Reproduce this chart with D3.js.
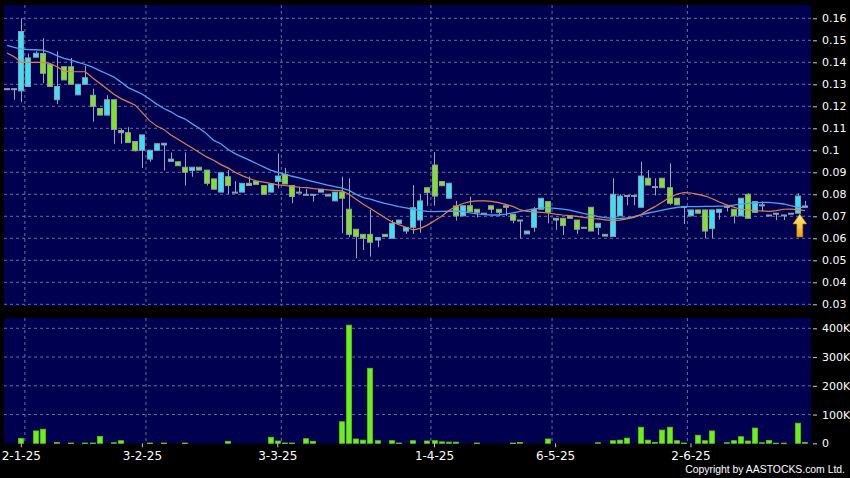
<!DOCTYPE html>
<html><head><meta charset="utf-8">
<script src="https://cdn.jsdelivr.net/npm/d3@7"></script>
<style>
html,body{margin:0;padding:0;background:#000;}
svg{display:block;}
text{font-family:"DejaVu Sans",sans-serif;fill:#fff;}
</style></head>
<body>
<svg id="chart" width="850" height="478"></svg>
<script>
// ---------- DATA ----------
const openP  = [.128,.128,.127,.129,.1423,.144,.139,.123,.138,.138,.1252,.130,.125,.119,.116,.123,.109,.108,.104,.100,.096,.100,.1024,.095,.0948,.0923,.0908,.0923,.091,.087,.081,.088,.081,.081,.085,.086,.084,.081,.0858,.089,.084,.081,.080,.080,.081,.080,.077,.081,.0732,.0641,.0618,.0618,.0592,.0618,.060,.0668,.0633,.065,.0683,.083,.0933,.0858,.0782,.0747,.0702,.0748,.0732,.0714,.0748,.0732,.0748,.0709,.0683,.062,.065,.0732,.0767,.0683,.0691,.0702,.0683,.065,.0741,.065,.0618,.0608,.0702,.0795,.0795,.0741,.0873,.0835,.0873,.083,.0782,.0745,.0702,.0729,.0729,.0644,.0718,.0745,.0732,.0702,.080,.0718,.0752,.0706,.0714,.0706,.0714,.0714,.0741];
const highP  = [.128,.128,.160,.144,.145,.151,.139,.145,.138,.142,.130,.1385,.128,.119,.125,.123,.110,.1105,.104,.107,.100,.103,.1032,.099,.0948,.099,.0923,.0923,.091,.087,.090,.091,.086,.085,.088,.086,.084,.0847,.0986,.092,.084,.0835,.0824,.080,.0823,.080,.081,.088,.0873,.0641,.0618,.0729,.0603,.0618,.0683,.0683,.065,.0842,.080,.083,.0991,.0858,.0853,.077,.0748,.0789,.0732,.0714,.0748,.0732,.0748,.0709,.0683,.0633,.0742,.0782,.0767,.0691,.0691,.0702,.0683,.065,.0741,.0668,.0618,.0873,.080,.0795,.0795,.0948,.091,.0873,.0873,.0941,.0782,.0745,.0729,.0729,.0729,.0729,.0732,.0752,.0732,.0782,.0805,.0767,.0767,.0706,.0714,.0706,.0714,.0805,.077];
const lowP   = [.128,.123,.122,.129,.1423,.1305,.129,.121,.132,.130,.1252,.130,.113,.116,.116,.103,.103,.1035,.0995,.092,.0948,.100,.0908,.095,.093,.084,.088,.091,.084,.0823,.081,.080,.081,.081,.084,.0845,.080,.081,.0827,.0847,.076,.081,.080,.0767,.081,.0792,.077,.0623,.0605,.051,.0547,.0517,.0559,.0608,.060,.0668,.062,.062,.0625,.0748,.0748,.0839,.0782,.068,.0702,.0721,.0695,.0714,.0714,.070,.0702,.0668,.060,.062,.063,.0732,.0668,.0638,.0615,.0691,.062,.065,.0633,.0615,.061,.0608,.0702,.075,.075,.0741,.0842,.0795,.083,.0752,.0752,.0665,.0702,.0714,.060,.060,.0685,.0722,.0668,.0702,.0691,.0718,.0722,.0702,.0683,.0683,.0714,.0714,.0741];
const closeP = [.128,.128,.154,.142,.1441,.135,.129,.129,.132,.130,.130,.133,.120,.116,.123,.1095,.108,.1035,.0998,.107,.100,.103,.1032,.096,.093,.090,.0923,.091,.085,.0823,.0898,.084,.081,.085,.084,.0845,.080,.0847,.0883,.0847,.079,.081,.080,.080,.0823,.0792,.081,.0782,.0618,.0608,.060,.0582,.0603,.0608,.0668,.0683,.065,.0739,.077,.0808,.0792,.0839,.085,.0702,.0748,.0721,.0718,.0714,.0732,.0718,.0741,.0682,.0683,.0633,.0732,.0782,.0718,.0691,.0658,.0691,.0641,.065,.0633,.0668,.061,.080,.0792,.0795,.0795,.0883,.0842,.0835,.083,.0759,.0752,.0745,.0729,.0714,.0633,.0729,.0732,.0745,.0702,.0782,.0691,.0767,.0752,.0702,.0714,.0702,.0714,.0792,.0747];
// volume in thousands of shares
const volumeK = [0,0,17,0,43,49,0,3,0,1,0,1,1,24,0,2,9,0,0,0,1,0,1,0,0,1,0,0,0,0,0,7,0,0,0,0,0,21,8,1,1,0,16,7,0,0,0,75,411,15,11,261,9,0,9,1,0,9,0,8,9,5,4,4,0,0,1,0,0,0,0,1,3,0,0,0,15,0,0,0,0,0,0,2,0,9,11,18,0,56,11,3,46,56,9,1,0,28,9,43,0,2,9,23,8,53,2,10,0.5,0.5,0,70,3];
// moving averages (orange = short, blue = long)
const maShort = [.1442,.1425,.140,.140,.140,.140,.1395,.138,.136,.1357,.1357,.1357,.133,.1305,.128,.1255,.1235,.122,.1205,.117,.1135,.111,.1095,.107,.105,.103,.101,.099,.097,.0955,.0935,.092,.090,.0885,.0872,.086,.0855,.085,.0843,.084,.0836,.0832,.083,.0826,.0823,.082,.0818,.0816,.080,.0778,.0755,.0735,.0715,.0695,.0675,.0662,.065,.0638,.0645,.066,.068,.070,.0725,.0745,.0758,.0767,.077,.077,.0768,.0762,.0754,.0745,.073,.0722,.072,.0718,.0715,.071,.0706,.0703,.070,.0695,.069,.0688,.0684,.068,.0683,.0688,.0695,.0708,.0728,.0745,.0765,.0785,.080,.0808,.0806,.080,.0792,.078,.0765,.0752,.0742,.0732,.0728,.0726,.0725,.0722,.0726,.0732,.0733,.073,.0726];
const maLong = [.1477,.1468,.146,.1458,.1457,.1455,.1445,.143,.1418,.141,.140,.139,.1378,.1362,.1348,.1333,.131,.1285,.127,.1255,.1233,.121,.119,.1175,.1155,.1142,.112,.110,.1075,.1045,.103,.1005,.0985,.097,.0955,.094,.0925,.091,.090,.0892,.0882,.0875,.0866,.0858,.085,.0842,.0835,.0828,.0818,.080,.0785,.0778,.0768,.0759,.0752,.0744,.0738,.0732,.0726,.0722,.0721,.0722,.0723,.0724,.0722,.0716,.0711,.0708,.0706,.0706,.071,.0716,.0722,.0728,.0734,.0738,.0738,.0736,.0733,.0728,.072,.0712,.0706,.0699,.0694,.0691,.069,.0693,.0698,.0706,.0715,.0721,.0728,.0735,.074,.0744,.0744,.0744,.0745,.0745,.0746,.0747,.0751,.0755,.0759,.0761,.0763,.0763,.076,.0756,.0748,.0741,.0741];
// axes
const priceTicks = [0.16,0.15,0.14,0.13,0.12,0.11,0.10,0.09,0.08,0.07,0.06,0.05,0.04,0.03];
const volTicks = [0,100,200,300,400];
const dateLabels = ["2-1-25","3-2-25","3-3-25","1-4-25","6-5-25","2-6-25"];
const dateIdx = [2,19,38,60,77,96];
const gridIdx = [2,19,38,59,76,95];
const arrowIdx = 111;

// ---------- LAYOUT ----------
const P = {left:4, right:811, top:5, bottom:306};
const V = {top:318, bottom:443.3};
const svg = d3.select("#chart");
const idx = d3.range(openP.length);

const x = d3.scaleBand().domain(idx).range([3.5, 808.5]).paddingInner(0.16).paddingOuter(0.08);
const cx = i => x(i) + x.bandwidth()/2;
const y = d3.scaleLinear().domain([0.03,0.16]).range([304.3,18.3]);
const yv = d3.scaleLinear().domain([0,400]).range([V.bottom,328.3]);

svg.append("rect").attr("width",850).attr("height",478).attr("fill","#000");
svg.append("rect").attr("x",P.left).attr("y",P.top).attr("width",P.right-P.left).attr("height",P.bottom-P.top).attr("fill","#000050");
svg.append("rect").attr("x",P.left).attr("y",V.top).attr("width",P.right-P.left).attr("height",V.bottom-V.top).attr("fill","#000050");

const gridCol = "#6c6c9c";
// horizontal grids
svg.append("g").selectAll("line").data(priceTicks).join("line")
  .attr("x1",P.left).attr("x2",P.right).attr("y1",d=>y(d)).attr("y2",d=>y(d))
  .attr("stroke",gridCol).attr("stroke-dasharray","3,3").attr("stroke-width",1);
svg.append("g").selectAll("line").data(volTicks.slice(1)).join("line")
  .attr("x1",P.left).attr("x2",P.right).attr("y1",d=>yv(d)).attr("y2",d=>yv(d))
  .attr("stroke",gridCol).attr("stroke-dasharray","3,3");
// vertical grids
const gx = i => x(i) + x.step() - (x.step()-x.bandwidth())/2;
svg.append("g").selectAll("line").data(gridIdx).join("line")
  .attr("x1",d=>gx(d)).attr("x2",d=>gx(d)).attr("y1",P.top).attr("y2",P.bottom)
  .attr("stroke",gridCol).attr("stroke-dasharray","3,3");
svg.append("g").selectAll("line").data(gridIdx).join("line")
  .attr("x1",d=>gx(d)).attr("x2",d=>gx(d)).attr("y1",V.top).attr("y2",V.bottom)
  .attr("stroke",gridCol).attr("stroke-dasharray","3,3");

// clip for price panel
svg.append("clipPath").attr("id","pclip").append("rect")
  .attr("x",P.left).attr("y",P.top).attr("width",P.right-P.left).attr("height",P.bottom-P.top);
const pg = svg.append("g").attr("clip-path","url(#pclip)");

// candles
const cyan = "#33e4f4", green = "#7ee41c";
const cg = pg.append("g");
cg.selectAll("line").data(idx).join("line")
  .attr("x1",i=>Math.round(cx(i))+0.5).attr("x2",i=>Math.round(cx(i))+0.5)
  .attr("y1",i=>y(highP[i])).attr("y2",i=>y(lowP[i]))
  .attr("stroke","#9aa6b4").attr("stroke-width",1);
cg.selectAll("rect").data(idx).join("rect")
  .attr("x",i=>Math.round(x(i))+0.5).attr("width",Math.round(x.bandwidth())-1)
  .attr("y",i=>y(Math.max(openP[i],closeP[i])))
  .attr("height",i=>Math.max(1,Math.abs(y(openP[i])-y(closeP[i]))))
  .attr("fill",i=>closeP[i]>openP[i]?cyan:(closeP[i]<openP[i]?green:"#6fa8c8"))
  .attr("stroke","#8d9cb0").attr("stroke-width",1);

// moving averages
const line = arr => d3.line().x((d,i)=>cx(i)).y(d=>y(d))(arr);
pg.append("path").attr("d",line(maLong)).attr("fill","none").attr("stroke","#49a6f2").attr("stroke-width",1.3);
pg.append("path").attr("d",line(maShort)).attr("fill","none").attr("stroke","#e0804a").attr("stroke-width",1.2);

// arrow marker
const defs = svg.append("defs");
const grad = defs.append("linearGradient").attr("id","ag").attr("x1",0).attr("x2",0).attr("y1",0).attr("y2",1);
grad.append("stop").attr("offset","0%").attr("stop-color","#fff27a");
grad.append("stop").attr("offset","100%").attr("stop-color","#f0a010");
const ax = cx(arrowIdx)+2, at = 214, ab = 237;
svg.append("path")
  .attr("d",`M${ax},${at} L${ax+7},${at+10} L${ax+3},${at+10} L${ax+3},${ab} L${ax-3},${ab} L${ax-3},${at+10} L${ax-7},${at+10} Z`)
  .attr("fill","url(#ag)").attr("stroke","#b07000").attr("stroke-width",0.6);

// volume bars
svg.append("g").selectAll("rect").data(idx.filter(i=>volumeK[i]>0)).join("rect")
  .attr("x",i=>Math.round(x(i))+0.5).attr("width",Math.round(x.bandwidth())-1)
  .attr("y",i=>yv(volumeK[i])).attr("height",i=>Math.max(0.6,V.bottom-yv(volumeK[i])))
  .attr("fill","#6cf01a").attr("stroke","#58c814").attr("stroke-width",0.8);

// right axes
const styleAxis = g => {
  g.select(".domain").remove();
  g.selectAll(".tick line").attr("stroke","#cccccc");
  g.selectAll(".tick text").attr("fill","#ffffff").style("font-family","DejaVu Sans").style("font-size","11px");
};
svg.append("g").attr("transform",`translate(${P.right+2},0)`)
  .call(d3.axisRight(y).tickValues(priceTicks).tickSize(4).tickPadding(5).tickFormat(d=>String(+d.toFixed(2))))
  .call(styleAxis);
svg.append("g").attr("transform",`translate(${P.right+2},0)`)
  .call(d3.axisRight(yv).tickValues(volTicks).tickSize(4).tickPadding(5).tickFormat(d=>d===0?"0":d+"K"))
  .call(styleAxis);

// bottom axis
const xa = svg.append("g").attr("transform",`translate(0,${V.bottom})`)
  .call(d3.axisBottom(x).tickValues(dateIdx).tickSize(4).tickPadding(4).tickFormat((d,k)=>dateLabels[k]));
xa.select(".domain").remove();
xa.selectAll(".tick line").attr("stroke","#cccccc");
xa.selectAll(".tick text").attr("fill","#fff").style("font-family","DejaVu Sans").style("font-size","12px");

svg.append("text").attr("x",845).attr("y",473).attr("text-anchor","end")
  .style("font-family","'Liberation Sans', Arial, sans-serif")
  .style("font-size","10.4px").text("Copyright by AASTOCKS.com Ltd.");
</script>
</body></html>
